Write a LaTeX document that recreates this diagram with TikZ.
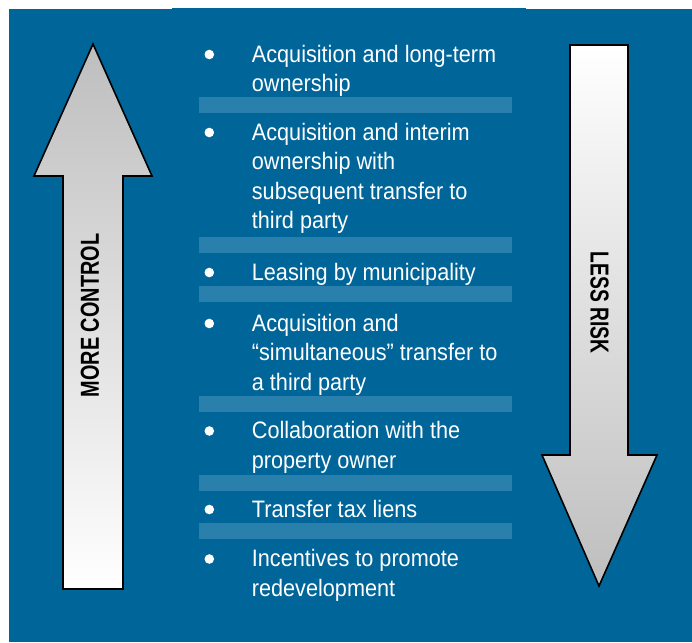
\documentclass[tikz,border=0pt]{standalone}
\usepackage{fontspec}
\usepackage{graphicx}
\setmainfont{Liberation Sans}
\newfontfamily\listfont[FakeStretch=0.91]{Liberation Sans}
\definecolor{bgblue}{RGB}{0,101,153}
\definecolor{stripeblue}{RGB}{42,128,172}
\definecolor{arrowgray}{RGB}{190,190,190}
\begin{document}
\begin{tikzpicture}[x=1pt,y=-1pt,
  stripe/.style={fill=stripeblue, draw=none},
  itemtext/.style={anchor=base west, inner sep=0pt, text=white, font=\listfont\fontsize{23.8}{29.5}\selectfont},
  bulletdot/.style={circle, fill=white, draw=none, minimum size=9.6pt, inner sep=0pt},
  arrowbox/.style={draw=black, line width=1.6pt, line join=miter},
  arrowlabel/.style={inner sep=0pt, text=black, font=\bfseries\fontsize{26}{26}\selectfont}
]
\useasboundingbox (0,0) rectangle (692,642);
% background
\fill[bgblue] (9,9) rectangle (692,642);
\fill[bgblue] (172,8) rectangle (526,10);

% stripes
\fill[stripe] (199,97) rectangle (512,113);
\fill[stripe] (199,237) rectangle (512,253);
\fill[stripe] (199,286) rectangle (512,302);
\fill[stripe] (199,396) rectangle (512,412);
\fill[stripe] (199,475) rectangle (512,491);
\fill[stripe] (199,523) rectangle (512,539);

% left arrow (up)
\draw[arrowbox, top color=arrowgray, bottom color=white]
  (93,44) -- (152,176) -- (123,176) -- (123,589) -- (63,589) -- (63,176) -- (34,176) -- cycle;
\node[arrowlabel, rotate=90] (more) at (90,315.5) {\scalebox{0.765}[1]{MORE CONTROL}};

% right arrow (down)
\draw[arrowbox, top color=white, bottom color=arrowgray]
  (570,45) -- (628,45) -- (628,455) -- (657,455) -- (599,586) -- (542,455) -- (570,455) -- cycle;
\node[arrowlabel, rotate=-90] (less) at (599.5,302.5) {\scalebox{0.74}[1]{LESS RISK}};

% items
\node[bulletdot] (b1) at (209.3,54.5) {};
\node[itemtext] (t1a) at (251.7,62) {Acquisition and long-term};
\node[itemtext] (t1b) at (251.7,91.5) {ownership};

\node[bulletdot] (b2) at (209.3,132.5) {};
\node[itemtext] (t2a) at (251.7,140) {Acquisition and interim};
\node[itemtext] (t2b) at (251.7,169.5) {ownership with};
\node[itemtext] (t2c) at (251.7,199) {subsequent transfer to};
\node[itemtext] (t2d) at (251.7,228.5) {third party};

\node[bulletdot] (b3) at (209.3,272.5) {};
\node[itemtext] (t3a) at (251.7,280) {Leasing by municipality};

\node[bulletdot] (b4) at (209.3,323.5) {};
\node[itemtext] (t4a) at (251.7,331) {Acquisition and};
\node[itemtext] (t4b) at (251.7,360.5) {“simultaneous” transfer to};
\node[itemtext] (t4c) at (251.7,390) {a third party};

\node[bulletdot] (b5) at (209.3,431) {};
\node[itemtext] (t5a) at (251.7,438.5) {Collaboration with the};
\node[itemtext] (t5b) at (251.7,468) {property owner};

\node[bulletdot] (b6) at (209.3,509.5) {};
\node[itemtext] (t6a) at (251.7,517) {Transfer tax liens};

\node[bulletdot] (b7) at (209.3,559) {};
\node[itemtext] (t7a) at (251.7,566.5) {Incentives to promote};
\node[itemtext] (t7b) at (251.7,596) {redevelopment};
\end{tikzpicture}
\end{document}
